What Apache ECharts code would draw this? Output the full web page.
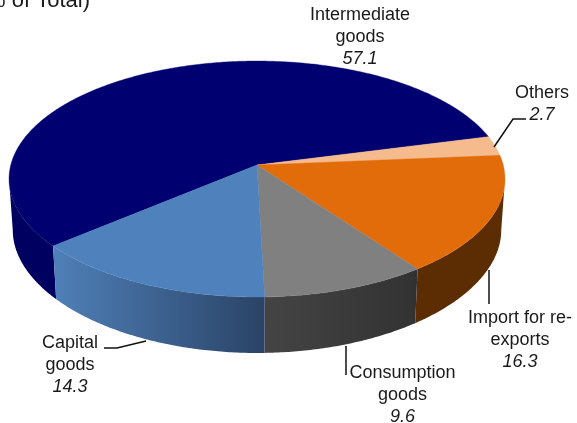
<!DOCTYPE html>
<html>
<head>
<meta charset="utf-8">
<style>html,body{margin:0;padding:0;background:#fff}#c{width:577px;height:423px}</style>
<script src="https://cdn.jsdelivr.net/npm/echarts@6/dist/echarts.min.js"></script>
</head>
<body>
<div id="c"></div>
<script>
var categories = ['Intermediate\ngoods', 'Others', 'Import for re-\nexports', 'Consumption\ngoods', 'Capital\ngoods'];
var values = [57.1, 2.7, 16.3, 9.6, 14.3];
var valueLabels = ['57.1', '2.7', '16.3', '9.6', '14.3'];
var topColors = ['#000070', '#F6BB8C', '#E26B0A', '#808080', '#4F81BD'];
var wallColors = [
  ['#000060', '#000060'],
  ['#7a4a20', '#7a4a20'],
  ['#5C2C02', '#5C2C02'],
  ['#444444', '#323232'],
  ['#4F80B8', '#2A4366']
];
var title = '(% of Total)';

var CX = 257, CY = 165, SX = 246.2, SY = 116.3, P = 0.1187, BASE_SHRINK = 0.985;
var START = 139.9 * Math.PI / 180;
var labelPos = [[360, 15.5], [542, 93.5], [520, 318.5], [402.5, 373.5], [70, 343.5]];
var LINE = 21.5, FS = 18;
var leaders = [
  null,
  [[494, 147], [513, 119], [526, 119]],
  [[489, 270], [489, 304]],
  [[346, 346], [346, 375]],
  [[146, 341], [117, 348], [104, 348]]
];

function proj(th) {
  var u = Math.cos(th), v = Math.sin(th), w = 1 - P * v;
  return [CX + SX * u / w, CY + SY * v / w, v];
}
function depth(v) { return 51 + 5 * v * v; }
var total = values.reduce(function (a, b) { return a + b; }, 0);
function range(i) {
  var s = START;
  for (var k = 0; k < i; k++) s += values[k] / total * Math.PI * 2;
  return [s, s + values[i] / total * Math.PI * 2];
}
function arc(a, b) {
  var n = Math.max(2, Math.ceil((b - a) / 0.01)), pts = [];
  for (var k = 0; k <= n; k++) pts.push(proj(a + (b - a) * k / n));
  return pts;
}
function renderWall(params, api) {
  var i = api.value(0), r = range(i), lim = Math.asin(P);
  var shapes = [];
  [[lim, Math.PI - lim], [lim + 2 * Math.PI, 3 * Math.PI - lim]].forEach(function (f) {
    var a = Math.max(r[0], f[0]), b = Math.min(r[1], f[1]);
    if (b <= a) return;
    var t = arc(a, b);
    var pts = t.map(function (p) { return [p[0], p[1]]; });
    var bot = t.slice().reverse().map(function (p) {
      return [CX + (p[0] - CX) * BASE_SHRINK, p[1] + depth(Math.max(p[2], P))];
    });
    shapes.push({
      type: 'polygon', shape: { points: pts.concat(bot) },
      style: { fill: { type: 'linear', x: 0, y: 0, x2: 1, y2: 0, colorStops: [
        { offset: 0, color: wallColors[i][0] }, { offset: 1, color: wallColors[i][1] }] } }
    });
  });
  return { type: 'group', children: shapes };
}
function renderTop(params, api) {
  var i = api.value(0), r = range(i);
  var pts = [[CX, CY]].concat(arc(r[0], r[1]).map(function (p) { return [p[0], p[1]]; }));
  return { type: 'polygon', shape: { points: pts },
    style: { fill: topColors[i], stroke: topColors[i], lineWidth: 0.4 } };
}
function renderLabel(params, api) {
  var i = api.value(0), kids = [], lines = categories[i].split('\n');
  var x = labelPos[i][0], y = labelPos[i][1];
  lines.forEach(function (t, k) {
    kids.push({ type: 'text', style: { text: t, x: x, y: y + k * LINE, align: 'center', verticalAlign: 'middle',
      fill: '#1a1a1a', font: FS + 'px "Liberation Sans", Arial, sans-serif' } });
  });
  kids.push({ type: 'text', style: { text: valueLabels[i], x: x, y: y + lines.length * LINE, align: 'center', verticalAlign: 'middle',
    fill: '#1a1a1a', font: 'italic ' + FS + 'px "Liberation Sans", Arial, sans-serif' } });
  if (leaders[i]) kids.push({ type: 'polyline', shape: { points: leaders[i] },
    style: { fill: 'none', stroke: '#111', lineWidth: 1.5 } });
  return { type: 'group', children: kids };
}
var rows = values.map(function (v, i) { return [i, v]; });
function series(fn, z) {
  return { type: 'custom', coordinateSystem: 'none', renderItem: fn, data: rows, z: z, silent: true, animation: false, encode: {} };
}
var chart = echarts.init(document.getElementById('c'), null, { renderer: 'canvas' });
chart.setOption({
  animation: false,
  backgroundColor: '#fff',
  title: { text: title, right: 577 - 90, top: -10, padding: 0,
    textStyle: { fontFamily: '"Liberation Sans", Arial, sans-serif', fontSize: 22, fontWeight: 'normal', color: '#1a1a1a' } },
  series: [series(renderWall, 1), series(renderTop, 2), series(renderLabel, 3)]
});
</script>
</body>
</html>
